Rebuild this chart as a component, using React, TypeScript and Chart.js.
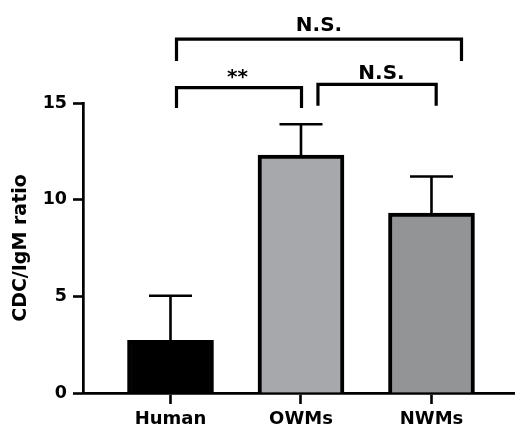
import React, { useEffect, useRef } from 'react';
import { Chart, registerables } from 'chart.js';

Chart.register(...registerables);

// ---- data ----
const groups = ['Human', 'OWMs', 'NWMs'];
const means = [2.73, 12.3, 9.3];
const errors = [2.3, 1.6, 1.9];
const barColors = ['#000000', '#a7a8ab', '#939496'];
const yTicks = [0, 5, 10, 15];
const yTitle = 'CDC/IgM ratio';

// significance brackets (in axis units: x = group index, y = value)
const bracketLabels = ['N.S.', '**', 'N.S.'];
const bracketFrom = [0.046, 0.046, 1.13];
const bracketTo = [2.23, 1.004, 2.036];
const bracketLevel = [18.3, 15.8, 15.96];
const bracketTail = [17.17, 14.74, 14.86];
const bracketTextX = [1.138, 0.513, 1.617];
const bracketTextY = [18.72, 16.02, 16.25];

const FONT = '"DejaVu Sans", "Liberation Sans", Arial, sans-serif';

const overlayPlugin = {
  id: 'overlay',
  afterDatasetsDraw(chart: any) {
    const { ctx } = chart;
    const x = chart.scales.x;
    const y = chart.scales.y;
    const meta = chart.getDatasetMeta(0);
    ctx.save();
    ctx.strokeStyle = '#000';
    ctx.fillStyle = '#000';
    ctx.lineCap = 'butt';
    ctx.lineWidth = 2.6;
    meta.data.forEach((bar: any, i: number) => {
      const cx = bar.x;
      const top = y.getPixelForValue(means[i] + errors[i]);
      const base = y.getPixelForValue(means[i]);
      ctx.beginPath();
      ctx.moveTo(cx, base);
      ctx.lineTo(cx, top);
      ctx.moveTo(cx - 21.5, top);
      ctx.lineTo(cx + 21.5, top);
      ctx.stroke();
    });
    ctx.lineWidth = 3.2;
    ctx.lineJoin = 'miter';
    ctx.font = `bold 20px ${FONT}`;
    ctx.textAlign = 'center';
    ctx.textBaseline = 'alphabetic';
    bracketLabels.forEach((label, i) => {
      const x1 = x.getPixelForValue(bracketFrom[i]);
      const x2 = x.getPixelForValue(bracketTo[i]);
      const yl = y.getPixelForValue(bracketLevel[i]);
      const yt = y.getPixelForValue(bracketTail[i]);
      ctx.beginPath();
      ctx.moveTo(x1, yt);
      ctx.lineTo(x1, yl);
      ctx.lineTo(x2, yl);
      ctx.lineTo(x2, yt);
      ctx.stroke();
      ctx.fillText(label, x.getPixelForValue(bracketTextX[i]), y.getPixelForValue(bracketTextY[i]));
    });
    ctx.restore();
  },
};

export default function App() {
  const ref = useRef<HTMLCanvasElement>(null);
  useEffect(() => {
    if (!ref.current) return;
    const chart = new Chart(ref.current, {
      type: 'bar',
      data: {
        datasets: [
          {
            data: means.map((m, i) => ({ x: i, y: m })) as any,
            backgroundColor: barColors,
            borderColor: '#000',
            borderWidth: 4,
            barThickness: 86,
          },
        ],
      },
      options: {
        responsive: false,
        animation: false,
        layout: { padding: { top: 103, right: 0, bottom: 0, left: 0 } },
        plugins: { legend: { display: false }, tooltip: { enabled: false } },
        scales: {
          x: {
            type: 'linear',
            offset: false,
            min: -0.6705,
            max: 2.64,
            afterBuildTicks: (s: any) => {
              s.ticks = groups.map((_, i) => ({ value: i }));
            },
            afterFit: (s: any) => {
              s.height = 36;
            },
            ticks: {
              callback: (_v: any, i: number) => groups[i],
              font: { family: FONT, size: 18, weight: 'bold' },
              color: '#000',
              padding: 5,
              maxRotation: 0,
              autoSkip: false,
            },
            grid: { offset: false, drawOnChartArea: false, tickLength: 11, tickWidth: 2.6, color: '#000' },
            border: { display: true, width: 2.7, color: '#000' },
          },
          y: {
            min: 0,
            max: 15,
            afterBuildTicks: (s: any) => {
              s.ticks = yTicks.map((v) => ({ value: v }));
            },
            afterFit: (s: any) => {
              s.width = 83;
            },
            ticks: {
              font: { family: FONT, size: 17.5, weight: 'bold' },
              color: '#000',
              padding: 6,
            },
            grid: { drawOnChartArea: false, tickLength: 10, tickWidth: 2.6, color: '#000' },
            border: { display: true, width: 2.7, color: '#000' },
            title: {
              display: true,
              text: yTitle,
              font: { family: FONT, size: 19, weight: 'bold' },
              color: '#000',
              padding: { top: 10, bottom: 0 },
            },
          },
        },
      } as any,
      plugins: [overlayPlugin],
    });
    return () => chart.destroy();
  }, []);
  return (
    <div style={{ position: 'absolute', left: 0, top: 0, width: 515, height: 429, background: '#fff' }}>
      <canvas ref={ref} width={515} height={429} style={{ display: 'block' }} />
    </div>
  );
}
